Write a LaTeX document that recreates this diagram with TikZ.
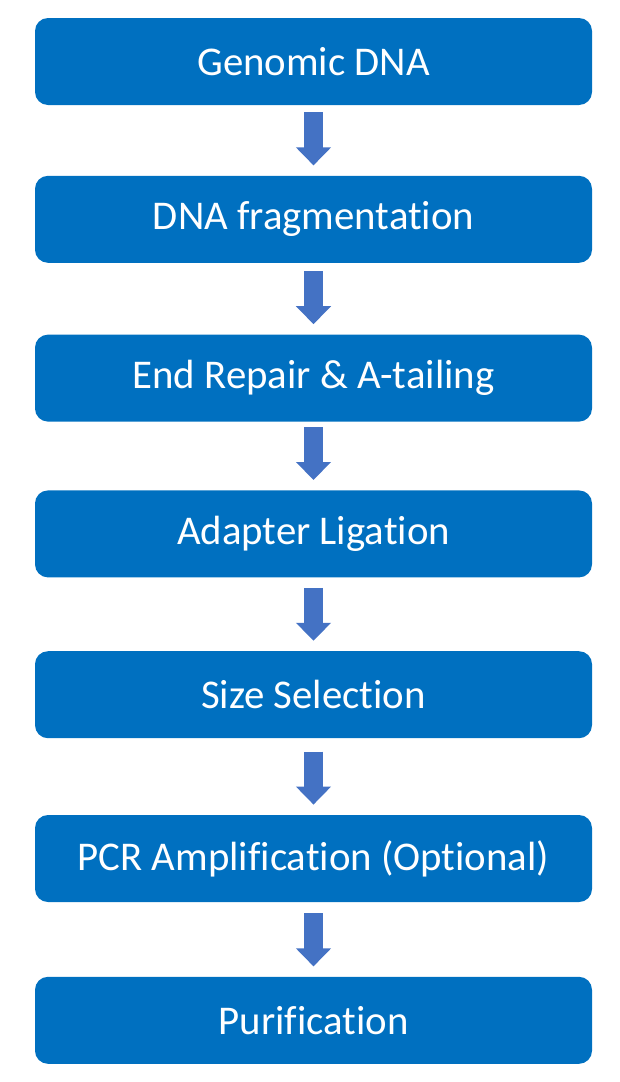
\documentclass[tikz,border=0pt]{standalone}
\usepackage{fontspec}
\setmainfont{Carlito}[Ligatures=NoCommon]
\usetikzlibrary{positioning,arrows.meta}
\definecolor{boxblue}{HTML}{0070C0}
\definecolor{arrowblue}{HTML}{4472C4}

\begin{document}
\begin{tikzpicture}[node distance=35pt,
    stepbox/.style={fill=boxblue, draw=none, rounded corners=6.5pt, minimum width=278.5pt, minimum height=43.5pt, text=white, font=\fontsize{20.4}{24}\selectfont},
    flow/.style={draw=arrowblue, line width=9.5pt, -{Triangle[width=17pt,length=9pt]}, shorten <=#1, shorten >=5pt},
    flow/.default=4pt]
        \useasboundingbox (0,0) rectangle (310pt,-541pt);

        % Library preparation steps
        \node (genomic) [stepbox] at (156.75pt,-30.75pt) {Genomic DNA};
        \node (frag) [stepbox, below =35pt of genomic] {DNA fragmentation};
        \node (repair) [stepbox, below =35.5pt of frag] {End Repair \& A-tailing};
        \node (ligation) [stepbox, below =34pt of repair] {Adapter Ligation};
        \node (size) [stepbox, below =36.5pt of ligation] {Size Selection};
        \node (pcr) [stepbox, below =38pt of size] {PCR Amplification (Optional)};
        \node (purif) [stepbox, below =37pt of pcr] {Purification};

        % Arrows between consecutive steps
        \draw[flow=3.5pt] (genomic) -- (frag);
        \draw[flow=4pt] (frag) -- (repair);
        \draw[flow=2.5pt] (repair) -- (ligation);
        \draw[flow=5pt] (ligation) -- (size);
        \draw[flow=6.5pt] (size) -- (pcr);
        \draw[flow=5.5pt] (pcr) -- (purif);
      \end{tikzpicture}
\end{document}
